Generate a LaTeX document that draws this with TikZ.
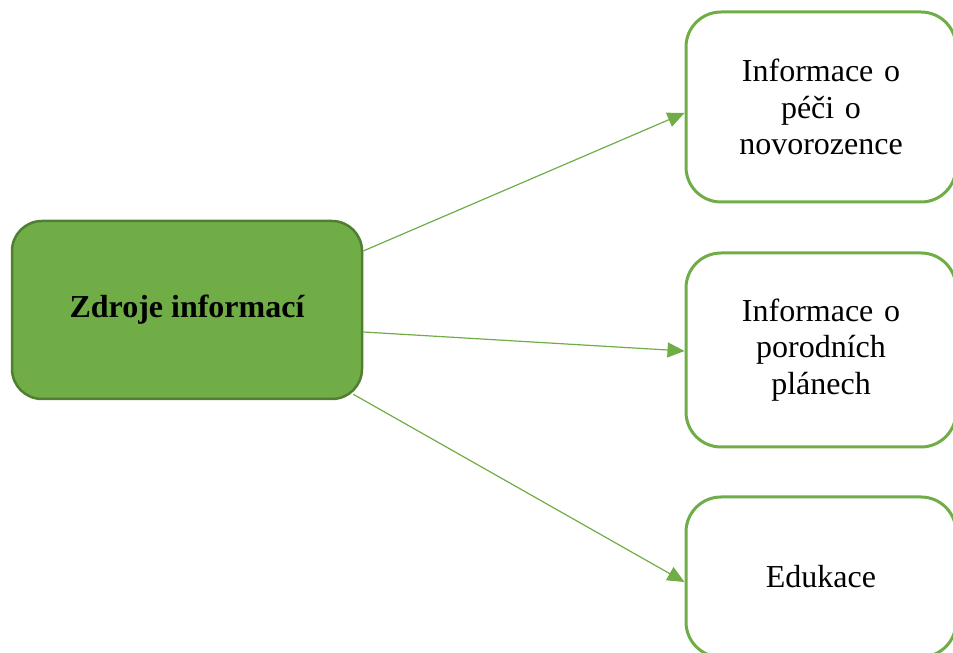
\documentclass[tikz,border=0pt]{standalone}
\usepackage{fontspec}
\setmainfont{Liberation Serif}
\usetikzlibrary{arrows.meta}
\definecolor{zelena}{HTML}{70AD47}
\definecolor{tmavozelena}{HTML}{507E32}
\tikzset{
  zdroj/.style={draw=tmavozelena, line width=2.5pt, fill=zelena, rounded corners=30pt,
    minimum width=350pt, minimum height=178pt, font=\bfseries, align=center},
  cil/.style={draw=zelena, line width=3pt, fill=white, rounded corners=35pt,
    minimum width=270pt, text width=230pt, align=center},
  sipka/.style={draw=zelena, line width=1.2pt, -{Triangle[length=17pt,width=15pt]}}
}

\begin{document}
\begin{tikzpicture}[x=1pt, y=1pt]

  \fontsize{32pt}{36.5pt}\selectfont

  \useasboundingbox (0,0) rectangle (953,653);

  \newcommand\XL{187};
  \newcommand\XR{821};

  \node[zdroj] (zdroje) at (\XL, 343) {Zdroje informací};

  \node[cil, minimum height=190pt] (pece) at (\XR, 546) {Informace o\\ péči o\\ novorozence};
  \node[cil, minimum height=194pt] (plany) at (\XR, 303) {Informace o\\ porodních\\ plánech};
  \node[cil, minimum height=160pt] (edukace) at (\XR, 76) {Edukace};

  \draw[sipka] ([yshift=59pt]zdroje.east) -- ([yshift=-6pt]pece.west); %% zdroje->pece
  \draw[sipka] ([yshift=-22pt]zdroje.east) -- ([yshift=-1pt]plany.west); %% zdroje->plany
  \draw[sipka] ([xshift=-10pt, yshift=6pt]zdroje.south east) -- ([yshift=-5pt]edukace.west); %% zdroje->edukace

\end{tikzpicture}
\end{document}
